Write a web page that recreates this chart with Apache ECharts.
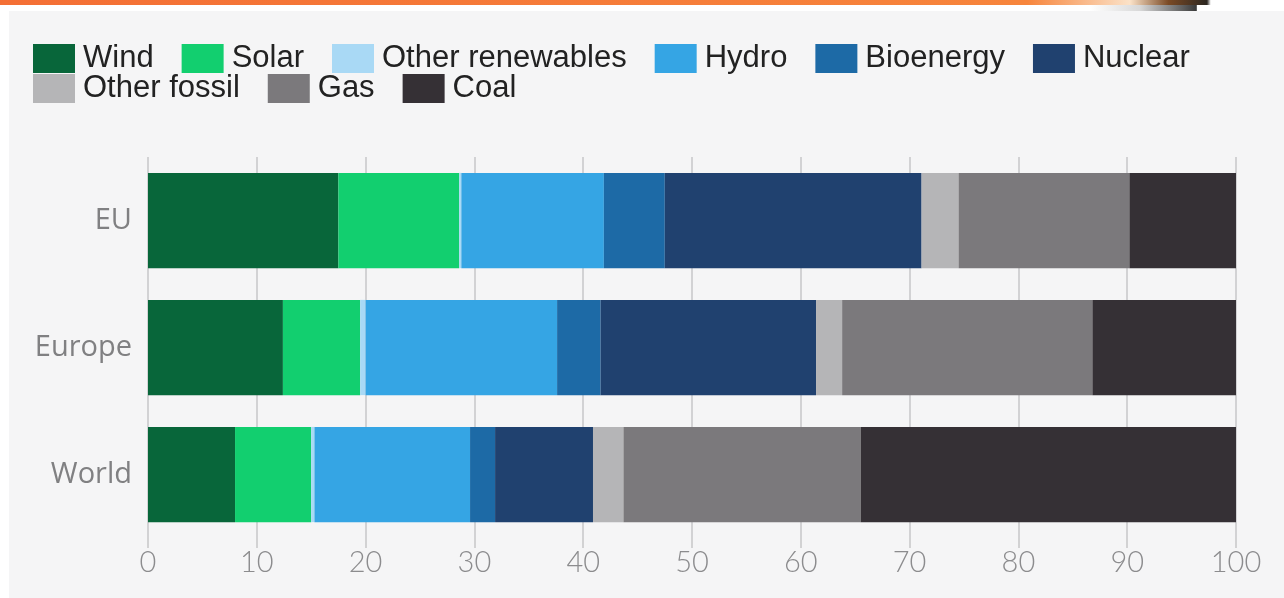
<!DOCTYPE html>
<html>
<head>
<meta charset="utf-8">
<script src="https://cdn.jsdelivr.net/npm/echarts@6/dist/echarts.min.js"></script>
<style>
  html, body { margin: 0; padding: 0; background: #ffffff; }
  #wrap { position: relative; width: 1284px; height: 598px; overflow: hidden; background: #ffffff; }
  #strip { position: absolute; left: 0; top: 0; width: 1284px; height: 5px;
    background: linear-gradient(to right, #f46f35 0%, #f7853c 80%, #fbe2c8 88%, #7a4a25 91%, #2c2620 94%, #ffffff 94.3%); }
  #strip2 { position: absolute; left: 1090px; top: 5px; width: 125px; height: 6px;
    background: linear-gradient(to right, rgba(255,255,255,0) 0%, #d8d8d8 40%, #3a3a3a 85%, #ffffff 86%); }
  #panel { position: absolute; left: 9px; top: 11px; right: 0; bottom: 0; background: #f5f5f6; }
  #chart { position: absolute; left: 0; top: 0; width: 1284px; height: 598px; }
</style>
</head>
<body>
<div id="wrap">
  <div id="strip"></div>
  <div id="strip2"></div>
  <div id="panel"></div>
  <div id="chart"></div>
</div>
<script>
// ---- data ----
const categories = ['EU', 'Europe', 'World'];
const seriesNames = ['Wind', 'Solar', 'Other renewables', 'Hydro', 'Bioenergy', 'Nuclear', 'Other fossil', 'Gas', 'Coal'];
const wind            = [17.5, 12.4, 8.0];
const solar           = [11.1, 7.1, 7.0];
const otherRenewables = [0.2, 0.5, 0.3];
const hydro           = [13.1, 17.6, 14.3];
const bioenergy       = [5.6, 4.0, 2.3];
const nuclear         = [23.6, 19.8, 9.0];
const otherFossil     = [3.4, 2.4, 2.8];
const gas             = [15.7, 23.0, 21.8];
const coal            = [9.8, 13.2, 34.5];
const xTicks = [0, 10, 20, 30, 40, 50, 60, 70, 80, 90, 100];

const values = [wind, solar, otherRenewables, hydro, bioenergy, nuclear, otherFossil, gas, coal];
const colors = ['#08663a', '#12cf6f', '#a9d9f5', '#35a5e4', '#1d6aa6', '#20416f', '#b5b5b7', '#7b797c', '#353035'];

const chart = echarts.init(document.getElementById('chart'), null, { renderer: 'canvas' });

const legendCommon = {
  orient: 'horizontal',
  itemWidth: 42,
  itemHeight: 29,
  itemGap: 28,
  padding: 0,
  selectedMode: false,
  icon: 'rect',
  textStyle: { fontFamily: 'Liberation Sans, Arial, sans-serif', fontSize: 31, color: '#222222', padding: [0, 0, 0, 3] }
};

const option = {
  backgroundColor: 'transparent',
  animation: false,
  color: colors,
  legend: [
    Object.assign({}, legendCommon, { left: 33, top: 43, data: seriesNames.slice(0, 6) }),
    Object.assign({}, legendCommon, { left: 33, top: 73, data: seriesNames.slice(6) })
  ],
  grid: { left: 148, right: 48, top: 157, height: 381, containLabel: false },
  xAxis: {
    type: 'value',
    min: 0, max: 100, interval: 10,
    axisLine: { show: false },
    axisTick: { show: true, length: 10, lineStyle: { color: '#c6c6c8', width: 1.5 } },
    splitLine: { show: true, lineStyle: { color: '#c6c6c8', width: 1.5 } },
    axisLabel: {
      margin: 10,
      fontFamily: 'Lato, Roboto, sans-serif', fontWeight: 300,
      fontSize: 29, color: '#8c8c8e',
      formatter: function (v) { return xTicks.indexOf(v) >= 0 ? String(v) : ''; }
    }
  },
  yAxis: {
    type: 'category',
    data: categories,
    inverse: true,
    axisLine: { show: false },
    axisTick: { show: false },
    axisLabel: {
      margin: 16,
      fontFamily: 'Open Sans, Lato, sans-serif', fontWeight: 400,
      fontSize: 29, color: '#808082'
    }
  },
  series: seriesNames.map(function (name, i) {
    return {
      name: name,
      type: 'bar',
      stack: 'total',
      barWidth: '75%',
      data: values[i],
      itemStyle: { color: colors[i] },
      emphasis: { disabled: true }
    };
  })
};

chart.setOption(option);
</script>
</body>
</html>
